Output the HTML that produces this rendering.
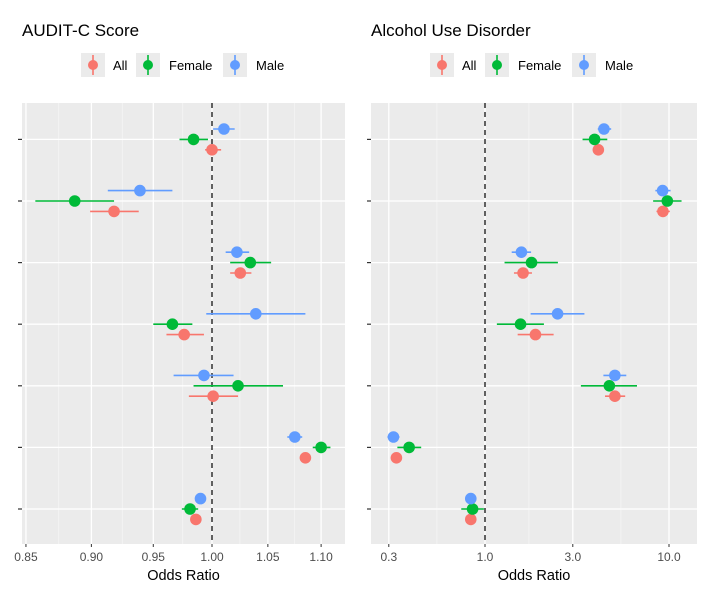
<!DOCTYPE html>
<html><head><meta charset="utf-8"><style>
body{margin:0;background:#fff;}
svg text{font-family:"Liberation Sans",sans-serif;}
</style></head><body>
<svg id="chart" width="707" height="589" xmlns="http://www.w3.org/2000/svg"></svg>
<script>
// Left panel: AUDIT-C Score (odds ratios), rows top to bottom
const leftAll = [1.000,0.918,1.025,0.976,1.001,1.085,0.986];
const leftAllLo = [0.994,0.899,1.016,0.961,0.980,1.082,0.983];
const leftAllHi = [1.008,0.938,1.035,0.993,1.023,1.088,0.989];
const leftFemale = [0.984,0.887,1.034,0.966,1.023,1.100,0.981];
const leftFemaleLo = [0.972,0.857,1.016,0.950,0.984,1.092,0.974];
const leftFemaleHi = [0.9965,0.918,1.053,0.983,1.064,1.109,0.988];
const leftMale = [1.0105,0.939,1.022,1.039,0.993,1.075,0.990];
const leftMaleLo = [1.001,0.913,1.012,0.995,0.967,1.068,0.986];
const leftMaleHi = [1.020,0.966,1.033,1.085,1.019,1.082,0.994];
const leftTicks = [0.85,0.90,0.95,1.00,1.05,1.10];
const leftTickLabels = ["0.85","0.90","0.95","1.00","1.05","1.10"];
// Right panel: Alcohol Use Disorder
const rightAll = [4.13,9.27,1.61,1.88,5.08,0.330,0.837];
const rightAllLo = [3.88,8.55,1.437,1.505,4.49,0.318,0.815];
const rightAllHi = [4.40,10.1,1.80,2.36,5.78,0.342,0.86];
const rightFemale = [3.94,9.79,1.79,1.56,4.74,0.387,0.856];
const rightFemaleLo = [3.39,8.2,1.277,1.160,3.32,0.334,0.743];
const rightFemaleHi = [4.62,11.7,2.49,2.09,6.70,0.45,0.986];
const rightMale = [4.43,9.23,1.577,2.48,5.08,0.318,0.837];
const rightMaleLo = [4.10,8.43,1.397,1.77,4.40,0.295,0.815];
const rightMaleHi = [4.85,10.2,1.78,3.47,5.86,0.343,0.86];
const rightTicks = [0.3,1.0,3.0,10.0];
const rightTickLabels = ["0.3","1.0","3.0","10.0"];
const groupNames = ["All","Female","Male"];

const NS="http://www.w3.org/2000/svg";
const svg=document.getElementById('chart');
function mk(tag,attrs,parent){const e=document.createElementNS(NS,tag);for(const k in attrs)e.setAttribute(k,attrs[k]);(parent||svg).appendChild(e);return e;}
const colors=["#F8766D","#00BA38","#619CFF"];
const rowY=i=>139.4+61.6*i;
const offs=[10.4,0,-10.4];

function panel(p){
  const g=mk('g',{});
  
  
  const bg=mk('rect',{x:p.x0,y:103,width:p.x1-p.x0,height:441,fill:'#EBEBEB'},g);
  
  
  // minor grid
  for(let i=0;i<p.ticks.length+1;i++){
    const a=i===0?p.xs(p.ticks[0])-(p.xs(p.ticks[1])-p.xs(p.ticks[0])):p.xs(p.ticks[i-1]);
    const b=i===p.ticks.length?p.xs(p.ticks[i-1])+(p.xs(p.ticks[i-1])-p.xs(p.ticks[i-2])):p.xs(p.ticks[i]);
    const m=(a+b)/2;
    if(m>p.x0&&m<p.x1){const l=mk('line',{x1:m,x2:m,y1:103,y2:544,stroke:'#F5F5F5','stroke-width':0.8},g);
    
    }
  }
  p.ticks.forEach((t,i)=>{
    const x=p.xs(t);
    const l=mk('line',{x1:x,x2:x,y1:103,y2:544,stroke:'#fff','stroke-width':1.3},g);
    
    
    mk('line',{x1:x,x2:x,y1:544,y2:547,stroke:'#333','stroke-width':1},g);
    const tx=mk('text',{x:x,y:561,'text-anchor':'middle','font-size':12,fill:'#4D4D4D'},g);
    tx.textContent=p.labels[i];
    
    
  });
  for(let r=0;r<7;r++){
    const y=rowY(r);
    const l=mk('line',{x1:p.x0,x2:p.x1,y1:y,y2:y,stroke:'#fff','stroke-width':1.3},g);
    
    
    const tk=mk('line',{x1:p.x0-4,x2:p.x0,y1:y,y2:y,stroke:'#333','stroke-width':1.2},g);
    
    
  }
  const ref=mk('line',{x1:p.xs(1),x2:p.xs(1),y1:103,y2:544,stroke:'#222','stroke-width':1.4,'stroke-dasharray':'5,4'},g);
  
  
  p.series.forEach((s,si)=>{
    for(let r=0;r<7;r++){
      const y=rowY(r)+offs[si];
      const e=mk('line',{x1:p.xs(s.lo[r]),x2:p.xs(s.hi[r]),y1:y,y2:y,stroke:colors[si],'stroke-width':1.6},g);
      
      
      const c=mk('circle',{cx:p.xs(s.v[r]),cy:y,r:5.8,fill:colors[si]},g);
      
      
    }
  });
  const tt=mk('text',{x:p.tx,y:36,'font-size':17,fill:'#000'},g);
  tt.textContent=p.title;
  
  
  const xt=mk('text',{x:(p.x0+p.x1)/2,y:580,'text-anchor':'middle','font-size':14.5,fill:'#000'},g);
  xt.textContent='Odds Ratio';
  
  
  const lx=[81,136,223].map(v=>v+p.lshift);
  const tx=[113,169,256].map(v=>v+p.lshift);
  groupNames.forEach((n,i)=>{
    const k=mk('g',{},g);
    
    
    mk('rect',{x:lx[i],y:53,width:24,height:24,fill:'#EBEBEB'},k);
    mk('line',{x1:lx[i]+12,x2:lx[i]+12,y1:55,y2:75,stroke:colors[i],'stroke-width':1.6},k);
    mk('circle',{cx:lx[i]+12,cy:65,r:5,fill:colors[i]},k);
    const t=mk('text',{x:tx[i],y:70,'font-size':13,fill:'#000'},k);
    t.textContent=n;
  });
}
panel({name:'audit-c-panel',title:'AUDIT-C Score',tx:22,x0:22,x1:345,lshift:0,
  xs:v=>212+2636*Math.log10(v),ticks:leftTicks,labels:leftTickLabels,
  series:[{v:leftAll,lo:leftAllLo,hi:leftAllHi},{v:leftFemale,lo:leftFemaleLo,hi:leftFemaleHi},{v:leftMale,lo:leftMaleLo,hi:leftMaleHi}]});
panel({name:'aud-panel',title:'Alcohol Use Disorder',tx:371,x0:371,x1:697,lshift:349,
  xs:v=>485+184*Math.log10(v),ticks:rightTicks,labels:rightTickLabels,
  series:[{v:rightAll,lo:rightAllLo,hi:rightAllHi},{v:rightFemale,lo:rightFemaleLo,hi:rightFemaleHi},{v:rightMale,lo:rightMaleLo,hi:rightMaleHi}]});
</script>
</body></html>
